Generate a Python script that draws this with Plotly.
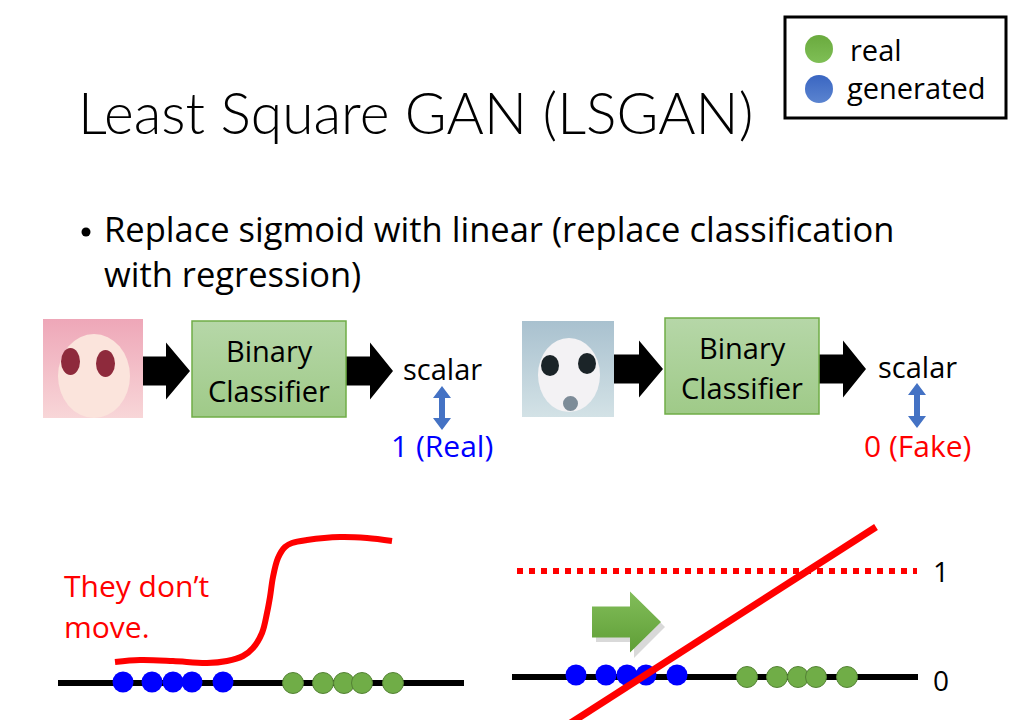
import plotly.graph_objects as go

# text on the slide
title = "Least Square GAN (LSGAN)"
bullet_lines = ["Replace sigmoid with linear (replace classification", "with regression)"]
box_lines = ["Binary", "Classifier"]
legend_labels = ["real", "generated"]
target_labels = ["1 (Real)", "0 (Fake)"]
note_lines = ["They don’t", "move."]
level_labels = ["1", "0"]

# points along the 1-d data line (left: sigmoid, right: linear)
gen_left_x = [123, 152, 173, 192, 223]
real_left_x = [293, 323, 344, 362, 393]
gen_right_x = [576, 606, 627, 646, 677]
real_right_x = [747, 777, 798, 816, 847]

# hand drawn sigmoid curve
sig_x = [115, 140, 173, 207, 227, 243, 253, 262, 267, 270, 273, 278, 285, 292, 307, 340, 367, 392]
sig_y = [662, 660, 661, 663, 661, 656, 648, 633, 613, 597, 577, 558, 547, 543, 540, 537, 538, 541]

# straight discriminator output on the right
lin_x = [566, 876]
lin_y = [726, 527]

FONT = "Open Sans"
RED = "#ff0000"
BLUE = "#0000ff"
GREEN = "#70ad47"

fig = go.Figure()


def poly(xs, ys, color, grad=None):
    kw = {}
    if grad:
        kw["fillgradient"] = dict(type="vertical", colorscale=[[0, grad[1]], [1, grad[0]]])
    fig.add_trace(go.Scatter(x=xs + xs[:1], y=ys + ys[:1], mode="lines", fill="toself",
                             fillcolor=color, line=dict(width=0), hoverinfo="skip", **kw))


def arrow(x0, x1, yc, body_h, head_h, head_w, color, grad=None):
    xb = x1 - head_w
    poly([x0, xb, xb, x1, xb, xb, x0],
         [yc - body_h / 2, yc - body_h / 2, yc - head_h / 2, yc, yc + head_h / 2, yc + body_h / 2, yc + body_h / 2],
         color, grad)


def double_arrow(xc, y0, y1, color):
    hw, hh, sw = 9, 12, 3
    poly([xc, xc + hw, xc + sw, xc + sw, xc + hw, xc, xc - hw, xc - sw, xc - sw, xc - hw],
         [y0, y0 + hh, y0 + hh, y1 - hh, y1 - hh, y1, y1 - hh, y1 - hh, y0 + hh, y0 + hh], color)


def text(x, y, s, size, color="black", anchor="left", family=FONT, weight=None, align="center"):
    f = dict(family=family, size=size, color=color)
    if weight:
        f["weight"] = weight
    fig.add_annotation(x=x, y=y, text=s, showarrow=False, xanchor=anchor, yanchor="middle", font=f, align=align)


def blob(x0, y0, x1, y1, color):
    fig.add_shape(type="circle", x0=x0, y0=y0, x1=x1, y1=y1, fillcolor=color, line=dict(width=0))


# title and bullet
text(76, 112, title, 57, family="Lato", weight=300)
fig.add_trace(go.Scatter(x=[86], y=[232], mode="markers", marker=dict(size=9, color="black"), hoverinfo="skip"))
text(102, 251, "<br>".join(bullet_lines), 34.5, align="left")

# legend box
fig.add_shape(type="rect", x0=785, y0=17, x1=1006, y1=118, line=dict(color="black", width=3))
fig.add_trace(go.Scatter(x=[819, 819], y=[49, 89], mode="markers", hoverinfo="skip",
                         marker=dict(size=28, color=["#6aaa3e", "#3a66c2"], line=dict(width=0),
                                     gradient=dict(type="vertical", color=["#7fbf56", "#5b84d0"]))))
text(848, 49, legend_labels[0], 29)
text(845, 87, legend_labels[1], 29)

# input images (rough placeholders: anime face, noisy generated face)
poly([43, 143, 143, 43], [319, 319, 418, 418], "#f2b6c2", grad=("#eea7b8", "#f8d6d8"))
blob(58, 334, 130, 418, "#fbe4dc")
blob(61, 348, 80, 375, "#8e2a3c")
blob(96, 350, 115, 377, "#8e2a3c")
poly([522, 614, 614, 522], [321, 321, 417, 417], "#c7d8e2", grad=("#a9c1cf", "#d3e2e6"))
blob(538, 338, 600, 412, "#f3f2f4")
blob(541, 355, 559, 376, "#1b2428")
blob(578, 353, 596, 374, "#1b2428")
blob(563, 396, 578, 411, "#7d8c98")

# classifier boxes
for bx0, bx1, by0, by1 in [(192, 346, 321, 417), (665, 819, 318, 414)]:
    poly([bx0, bx1, bx1, bx0], [by0, by0, by1, by1], "#a9d08e", grad=("#b6d7a8", "#9fca88"))
    fig.add_shape(type="rect", x0=bx0, y0=by0, x1=bx1, y1=by1, line=dict(color=GREEN, width=1.5))
    text((bx0 + bx1) / 2, by0 + 29, box_lines[0], 29, anchor="center")
    text((bx0 + bx1) / 2, by0 + 69, box_lines[1], 29, anchor="center")

# black arrows
arrow(143, 190, 371, 29, 57, 24, "black")
arrow(346, 393, 371, 29, 57, 23, "black")
arrow(614, 663, 369, 29, 57, 24, "black")
arrow(819, 866, 369, 29, 57, 23, "black")

text(442, 368, "scalar", 29, anchor="center")
text(917, 366, "scalar", 29, anchor="center")
double_arrow(442, 386, 430, "#4472c4")
double_arrow(917, 383, 428, "#4472c4")
text(442, 445, target_labels[0], 30, color=BLUE, anchor="center")
text(917, 445, target_labels[1], 30, color=RED, anchor="center")

# left bottom panel
text(62, 585, note_lines[0], 30, color=RED)
text(62, 626, note_lines[1], 30, color=RED)
fig.add_trace(go.Scatter(x=[58, 464], y=[683, 683], mode="lines", line=dict(color="black", width=6), hoverinfo="skip"))
fig.add_trace(go.Scatter(x=sig_x, y=sig_y, mode="lines", line=dict(color=RED, width=6, shape="spline"), hoverinfo="skip"))
fig.add_trace(go.Scatter(x=gen_left_x, y=[682] * len(gen_left_x), mode="markers",
                         marker=dict(size=21, color=BLUE, line=dict(width=0)), hoverinfo="skip"))
fig.add_trace(go.Scatter(x=real_left_x, y=[683] * len(real_left_x), mode="markers",
                         marker=dict(size=21, color=GREEN, line=dict(width=1, color="#548235")), hoverinfo="skip"))

# right bottom panel
fig.add_trace(go.Scatter(x=[517, 917], y=[571, 571], mode="lines",
                         line=dict(color=RED, width=6, dash="6px,6px"), hoverinfo="skip"))
text(931, 571, level_labels[0], 28)
text(931, 680, level_labels[1], 28)
poly([596, 634, 634, 665, 634, 634, 596], [611, 611, 596, 627, 658, 642, 642], "#d9d9d9")
arrow(592, 661, 622, 31, 61, 31, GREEN, grad=("#82bd5a", "#5f9e36"))
fig.add_trace(go.Scatter(x=[512, 918], y=[677, 677], mode="lines", line=dict(color="black", width=6), hoverinfo="skip"))
fig.add_trace(go.Scatter(x=gen_right_x, y=[675] * len(gen_right_x), mode="markers",
                         marker=dict(size=21, color=BLUE, line=dict(width=0)), hoverinfo="skip"))
fig.add_trace(go.Scatter(x=real_right_x, y=[677] * len(real_right_x), mode="markers",
                         marker=dict(size=21, color=GREEN, line=dict(width=1, color="#548235")), hoverinfo="skip"))
fig.add_trace(go.Scatter(x=lin_x, y=lin_y, mode="lines", line=dict(color=RED, width=7), hoverinfo="skip"))

# the page body has an 8px margin, so the axes start at 8 to line up with screen pixels
fig.update_layout(width=1016, height=720, margin=dict(l=0, r=0, t=0, b=0),
                  paper_bgcolor="white", plot_bgcolor="white", showlegend=False,
                  xaxis=dict(range=[8, 1024], visible=False, fixedrange=True),
                  yaxis=dict(range=[728, 8], visible=False, fixedrange=True))
fig.write_html("out.html")
